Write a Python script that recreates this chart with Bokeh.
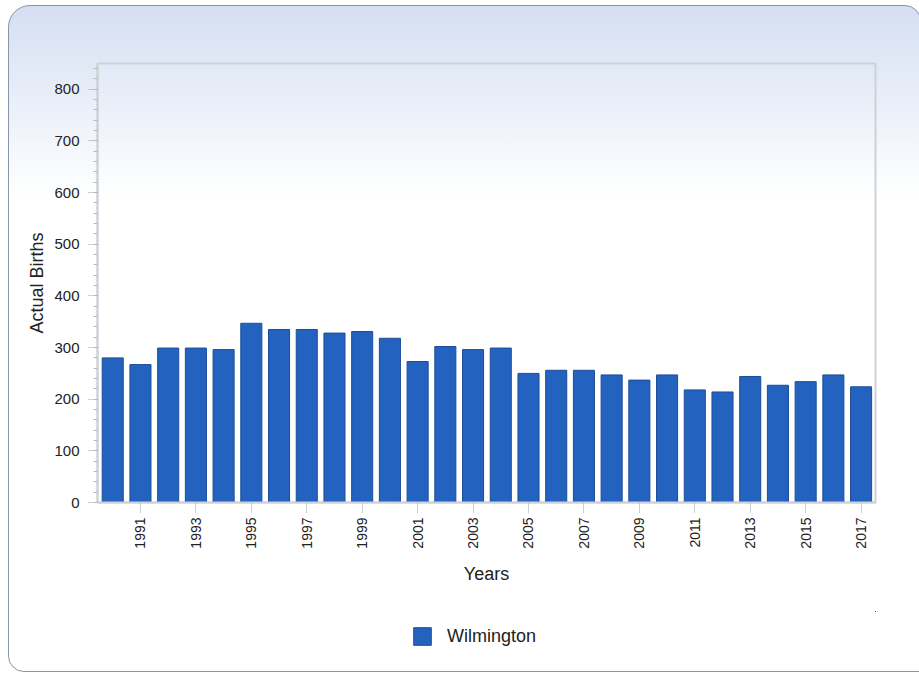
from bokeh.plotting import figure
from bokeh.layouts import column
from bokeh.models import (FixedTicker, SingleIntervalTicker, Range1d, Legend, LegendItem)
from bokeh.embed import file_html
from bokeh.resources import INLINE
import math

years = list(range(1990, 2018))
births = [280, 267, 299, 299, 296, 347, 335, 335, 328, 331, 318, 273, 302, 296,
          299, 250, 256, 256, 247, 237, 247, 218, 214, 244, 227, 234, 247, 224]
tick_years = list(range(1991, 2018, 2))
series_name = "Wilmington"

FONT = "Liberation Sans"
BAR_FILL = "#2462c0"
BAR_LINE = "#1c4d98"

p = figure(width=911, height=605, output_backend="svg", toolbar_location=None,
           x_range=Range1d(1989.45, 2017.52), y_range=Range1d(0, 850),
           min_border_left=88, min_border_right=45, min_border_top=57,
           min_border_bottom=109)
p.border_fill_color = None
p.background_fill_color = None
p.outline_line_color = "#cdd1d8"
p.outline_line_width = 2
p.xgrid.visible = False
p.ygrid.visible = False

bars = p.vbar(x=years, top=births, width=0.76, fill_color=BAR_FILL,
              line_color=BAR_LINE, line_width=1)

# x axis
xa = p.xaxis[0]
xa.ticker = FixedTicker(ticks=tick_years, minor_ticks=[])
xa.major_label_orientation = math.pi / 2
xa.major_label_text_font = FONT
xa.major_label_text_font_size = "14px"
xa.major_label_text_color = "#222222"
xa.major_label_standoff = 5
xa.major_tick_in = 0
xa.major_tick_out = 10
xa.major_tick_line_dash = "1 1"
xa.major_tick_line_color = "#9aa0a8"
xa.axis_line_color = "#cdd1d8"
xa.axis_line_width = 2
xa.axis_label = "Years"
xa.axis_label_text_font = FONT
xa.axis_label_text_font_size = "18px"
xa.axis_label_text_font_style = "normal"
xa.axis_label_text_color = "#222222"
xa.axis_label_standoff = 12

# y axis
ya = p.yaxis[0]
ya.ticker = SingleIntervalTicker(interval=100, num_minor_ticks=5)
ya.major_label_text_font = FONT
ya.major_label_text_font_size = "15px"
ya.major_label_text_color = "#222222"
ya.major_label_standoff = 9
ya.major_tick_in = 0
ya.major_tick_out = 9
ya.major_tick_line_dash = "1 1"
ya.major_tick_line_color = "#9aa0a8"
ya.minor_tick_in = 0
ya.minor_tick_out = 4
ya.minor_tick_line_color = "#b4b9c0"
ya.axis_line_color = "#cdd1d8"
ya.axis_line_width = 2
ya.axis_label = "Actual Births"
ya.axis_label_text_font = FONT
ya.axis_label_text_font_size = "18px"
ya.axis_label_text_font_style = "normal"
ya.axis_label_text_color = "#222222"
ya.axis_label_standoff = 4

# legend strip below the chart (its bars lie outside its own view; only the swatch shows)
lf = figure(width=911, height=60, output_backend="svg", toolbar_location=None,
            x_range=Range1d(1900, 1980), y_range=Range1d(-1000, -900),
            x_axis_location=None, y_axis_location=None,
            min_border_left=0, min_border_right=0, min_border_top=0,
            min_border_bottom=0)
lf.grid.visible = False
lf.outline_line_color = None
lf.border_fill_color = None
lf.background_fill_color = None
swatch = lf.vbar(x=years, top=births, width=0.76, fill_color=BAR_FILL,
                 line_color=BAR_LINE, line_width=1)
legend = Legend(items=[LegendItem(label=series_name, renderers=[swatch])],
                location=(314, 24), orientation="horizontal",
                glyph_width=22, glyph_height=22,
                label_text_font=FONT, label_text_font_size="18px",
                label_text_color="#222222", label_standoff=14,
                border_line_color=None, background_fill_alpha=0,
                margin=0, padding=4)
lf.add_layout(legend, "center")

layout = column(p, lf, spacing=0,
                styles={"background": "linear-gradient(to bottom, #d5dff2 0px, #eaf0f9 100px, #ffffff 190px)",
                        "border": "1px solid #8796aa",
                        "border-radius": "22px 16px 0px 16px",
                        "margin-left": "8px", "margin-top": "5px"})

open("out.html", "w").write(file_html(layout, INLINE))
